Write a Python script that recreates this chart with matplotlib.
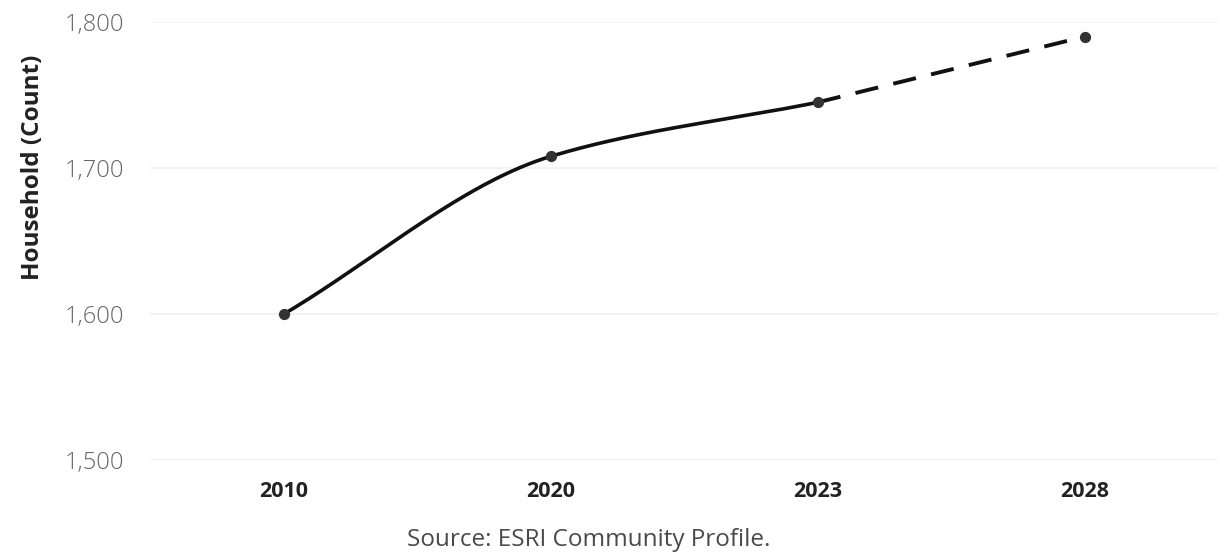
import numpy as np
import matplotlib.pyplot as plt

# data
years = ["2010", "2020", "2023", "2028"]
households = [1600, 1708, 1745, 1790]
y_ticks = [1500, 1600, 1700, 1800]

plt.rcParams['font.family'] = ['Open Sans', 'DejaVu Sans']


def pchip(xk, yk, xs):
    # monotone cubic (Fritsch-Carlson) for the smooth solid part
    xk = np.asarray(xk, float)
    yk = np.asarray(yk, float)
    h = np.diff(xk)
    d = np.diff(yk) / h
    m = np.zeros_like(yk)
    m[0], m[-1] = d[0], d[-1]
    for i in range(1, len(xk) - 1):
        if d[i - 1] * d[i] > 0:
            w1 = 2 * h[i] + h[i - 1]
            w2 = h[i] + 2 * h[i - 1]
            m[i] = (w1 + w2) / (w1 / d[i - 1] + w2 / d[i])
    out = np.empty_like(xs)
    for j, x in enumerate(xs):
        i = min(np.searchsorted(xk, x, side='right') - 1, len(xk) - 2)
        t = (x - xk[i]) / h[i]
        h00 = 2 * t**3 - 3 * t**2 + 1
        h10 = t**3 - 2 * t**2 + t
        h01 = -2 * t**3 + 3 * t**2
        h11 = t**3 - t**2
        out[j] = h00 * yk[i] + h10 * h[i] * m[i] + h01 * yk[i + 1] + h11 * h[i] * m[i + 1]
    return out


fig = plt.figure(figsize=(12.23, 5.57), dpi=100)
ax = fig.add_axes([0.123, 0.174, 0.873, 0.7865])

x = np.arange(len(years))
xs = np.linspace(0, 2, 200)
ax.plot(xs, pchip(x[:3], households[:3], xs), color='#111111', lw=2.6,
        solid_capstyle='round', zorder=3)
ax.plot(x[2:], households[2:], color='#111111', lw=2.8, ls=(0, (6, 4)), zorder=3)
ax.scatter(x, households, s=50, color='#333333', zorder=4, clip_on=False)

ax.set_xlim(-0.5, 3.5)
ax.set_ylim(1500, 1800)
ax.set_yticks(y_ticks)
ax.set_yticklabels([f"{v:,}" for v in y_ticks], color='#666666', fontsize=17, fontweight='light')
ax.set_xticks(x)
ax.set_xticklabels(years, fontweight='bold', fontsize=15.5, color='#222222')
ax.tick_params(axis='both', length=0)
ax.tick_params(axis='y', pad=19)
ax.tick_params(axis='x', pad=15)
ax.grid(axis='y', color='#f0f0f0', lw=1.2)
ax.set_axisbelow(True)
for s in ax.spines.values():
    s.set_visible(False)

fig.text(33 / 1223, 1 - 167 / 557, "Household (Count)", rotation=90, ha='center', va='center',
         fontweight='bold', fontsize=17.5, color='#222222')
fig.text(0.481, 0.03, "Source: ESRI Community Profile.", ha='center', va='center',
         fontsize=17.5, color='#4a4a4a')

fig.savefig('out.png', dpi=100)
